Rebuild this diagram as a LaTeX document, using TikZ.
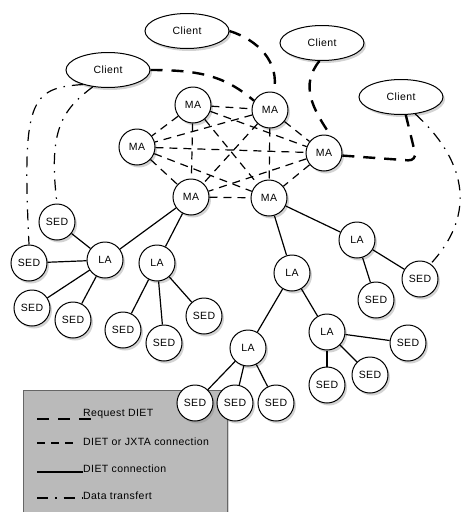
\documentclass[tikz,border=0pt]{standalone}
\usepackage{fontspec}
\setmainfont{Liberation Sans}[LetterSpace=4]
\usetikzlibrary{shapes.geometric,shadows}
\begin{document}
\begin{tikzpicture}[x=1pt,y=-1pt,
  lbl/.style={font=\fontsize{10.5}{12}\selectfont},
  shade/.style={drop shadow={opacity=.35,shadow xshift=2pt,shadow yshift=-2.5pt}},
  agent/.style={circle,draw,line width=1pt,fill=white,minimum size=36pt,inner sep=0pt,lbl,shade},
  client/.style={ellipse,draw,line width=1pt,fill=white,minimum width=84pt,minimum height=35pt,inner sep=0pt,lbl,shade},
  req/.style={line width=2.4pt,dash pattern=on 12pt off 9pt},
  mesh/.style={line width=1.2pt,dash pattern=on 8pt off 6pt},
  link/.style={line width=1.2pt},
  data/.style={line width=1.2pt,dash pattern=on 11pt off 7pt on 1.5pt off 7pt},
  leg/.style={anchor=west,inner sep=2pt,lbl}]
\useasboundingbox (0,0) rectangle (468,512);
\clip (0,0) rectangle (468,512);

\draw[draw=black!60,fill=black!27,line width=.8pt,shade](23,390) rectangle (227,530);

\node[client] (c1) at (187,31) {Client};
\node[client] (c2) at (108,70) {Client};
\node[client] (c3) at (322,43) {Client};
\node[client] (c4) at (401,97) {Client};

\node[agent] (ma1) at (193,105) {MA};
\node[agent] (ma2) at (270,110) {MA};
\node[agent] (ma3) at (137,147) {MA};
\node[agent] (ma4) at (324,153) {MA};
\node[agent] (ma5) at (191,197) {MA};
\node[agent] (ma6) at (269,198) {MA};

\node[agent] (la1) at (105,260) {LA};
\node[agent] (la2) at (157,263) {LA};
\node[agent] (la3) at (357,240) {LA};
\node[agent] (la4) at (292,273) {LA};
\node[agent] (la5) at (327,332) {LA};
\node[agent] (la6) at (248,348) {LA};

\node[agent] (sa) at (57,222) {SED};
\node[agent] (sb) at (29,263) {SED};
\node[agent] (sc) at (32,308) {SED};
\node[agent] (sd) at (73,320) {SED};
\node[agent] (se) at (123,330) {SED};
\node[agent] (sf) at (164,343) {SED};
\node[agent] (sg) at (204,316) {SED};
\node[agent] (sh) at (376,300) {SED};
\node[agent] (si) at (420,279) {SED};
\node[agent] (sj) at (408,343) {SED};
\node[agent] (sk) at (370,375) {SED};
\node[agent] (sl) at (327,385) {SED};
\node[agent] (sn) at (195,403) {SED};
\node[agent] (so) at (235,403) {SED};
\node[agent] (sm) at (276,403) {SED};

\foreach \a/\b in {ma1/ma2,ma1/ma3,ma1/ma4,ma1/ma5,ma1/ma6,ma2/ma3,ma2/ma4,ma2/ma5,
  ma2/ma6,ma3/ma4,ma3/ma5,ma3/ma6,ma4/ma5,ma4/ma6,ma5/ma6}
  \draw[mesh] (\a) -- (\b);

\foreach \a/\b in {ma5/la1,ma5/la2,la1/sa,la1/sb,la1/sc,la1/sd,la2/se,la2/sf,la2/sg,
  ma6/la3,ma6/la4,la3/sh,la3/si,la4/la6,la4/la5,la5/sj,la5/sk,la5/sl,la6/sn,la6/so,la6/sm}
  \draw[link] (\a) -- (\b);

\draw[req](c1.east) .. controls (258,40) and (280,62) .. (ma2.78);
\draw[req](c2.east) .. controls (200,70) and (225,76) .. (ma2.150);
\draw[req](c3.262) .. controls (300,85) and (312,108) .. (ma4.68);
\draw[req,rounded corners=9pt](ma4.-8) -- (417,161) -- (c4.-75);

\draw[data](c4.-50) .. controls (455,150) and (485,205) .. (si.55);
\draw[data](c2.210) .. controls (30,88) and (22,100) .. (sb.north);
\draw[data](c2.228) .. controls (62,110) and (48,130) .. (sa.north);

\node[leg] (t1) at (81,414) {Request DIET};
\node[leg] (t2) at (81,442) {DIET or JXTA connection};
\node[leg] (t3) at (81,469) {DIET connection};
\node[leg] (t4) at (81,496) {Data transfert};
\coordinate (k1) at (37,419);
\coordinate (k2) at (37,443);
\coordinate (k3) at (37,472);
\coordinate (k4) at (37,498);
\draw[req] (k1) -- ++(58,0);
\draw[mesh] (k2) -- ++(40,0);
\draw[link] (k3) -- ++(46,0);
\draw[data] (k4) -- ++(46,0);
\end{tikzpicture}
\end{document}
